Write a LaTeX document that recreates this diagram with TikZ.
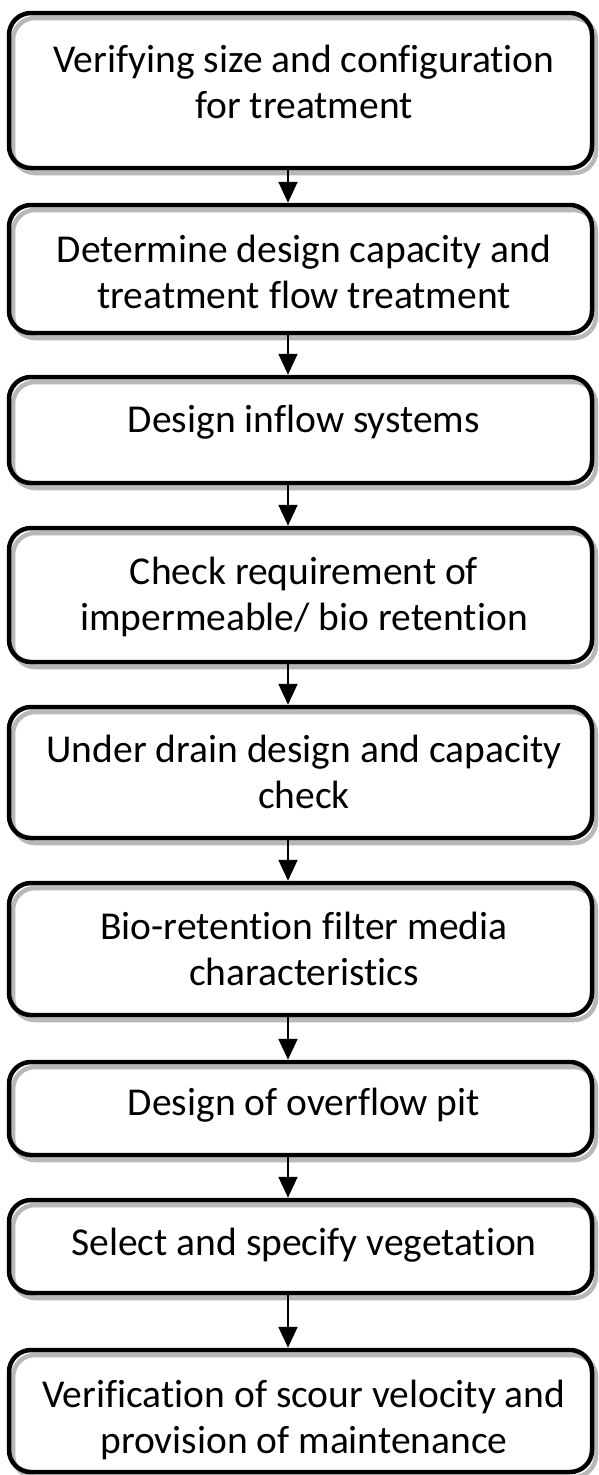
\documentclass[tikz,border=0pt]{standalone}
\usepackage{fontspec}
\setmainfont{Carlito}[Ligatures=NoCommon]
\usetikzlibrary{arrows.meta,shadows,calc}
\begin{document}
\begin{tikzpicture}[x=1pt,y=1pt,
  box/.style={draw=black, line width=4.5pt, rounded corners=22pt, fill=none,
    minimum width=583pt, inner sep=0pt,
    drop shadow={shadow xshift=4pt, shadow yshift=-5pt, fill=none, draw=black!28, opacity=1}},
  txt/.style={font=\fontsize{39.5}{46}\selectfont, align=center, anchor=base, inner sep=0pt, text=black},
  arr/.style={line width=2pt, -{Triangle[width=19pt,length=21pt]}}]
\useasboundingbox (0,0) rectangle (598,-1475);
\fill[white] (0,0) rectangle (598,-1475);

\node[box, minimum height=155pt] (b1) at (300.5,-90.5) {};
\node[box, minimum height=128pt] (b2) at (300.5,-269) {};
\node[box, minimum height=106pt] (b3) at (300.5,-430) {};
\node[box, minimum height=134pt] (b4) at (300.5,-595) {};
\node[box, minimum height=131pt] (b5) at (300.5,-772.5) {};
\node[box, minimum height=132pt] (b6) at (300.5,-949) {};
\node[box, minimum height=93pt] (b7) at (300.5,-1108.5) {};
\node[box, minimum height=93pt] (b8) at (300.5,-1246.5) {};
\node[box, minimum height=122pt] (b9) at (300.5,-1411) {};

% base anchor = baseline of the last line
\node[txt] (t1) at (304,-118) {Verifying size and configuration\\for treatment};
\node[txt] (t2) at (304,-308) {Determine design capacity and\\treatment flow treatment};
\node[txt] (t3) at (304,-432) {Design inflow systems};
\node[txt] (t4) at (304,-630) {Check requirement of\\impermeable/ bio retention};
\node[txt] (t5) at (304,-808) {Under drain design and capacity\\check};
\node[txt] (t6) at (304,-985) {Bio-retention filter media\\characteristics};
\node[txt] (t7) at (304,-1115) {Design of overflow pit};
\node[txt] (t8) at (304,-1255) {Select and specify vegetation};
\node[txt] (t9) at (304,-1453) {Verification of scour velocity and\\provision of maintenance};

\coordinate (ax) at (288,0);
\draw[arr] (b1.south -| ax) -- (b2.north -| ax);
\draw[arr] (b2.south -| ax) -- (b3.north -| ax);
\draw[arr] (b3.south -| ax) -- (b4.north -| ax);
\draw[arr] (b4.south -| ax) -- (b5.north -| ax);
\draw[arr] (b5.south -| ax) -- (b6.north -| ax);
\draw[arr] (b6.south -| ax) -- (b7.north -| ax);
\draw[arr] (b7.south -| ax) -- (b8.north -| ax);
\draw[arr] (b8.south -| ax) -- (b9.north -| ax);
\end{tikzpicture}
\end{document}
